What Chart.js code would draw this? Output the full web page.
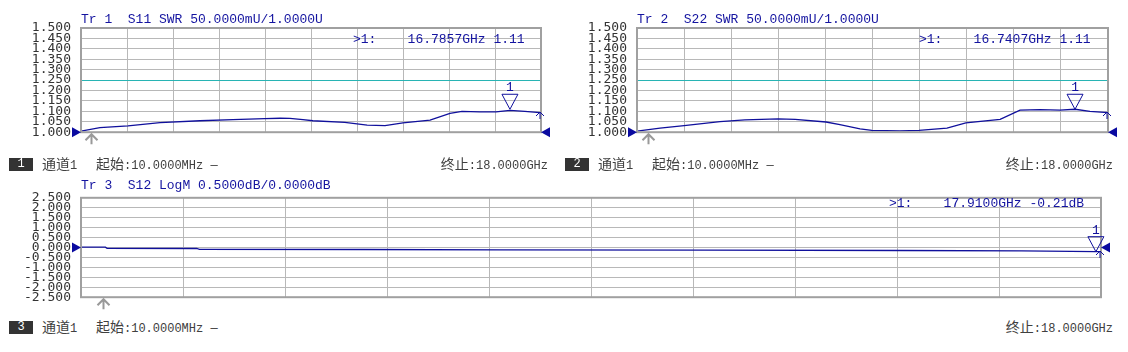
<!DOCTYPE html>
<html>
<head>
<meta charset="utf-8">
<script src="https://cdn.jsdelivr.net/npm/chart.js@4.4.0/dist/chart.umd.min.js"></script>
<style>
  body { margin: 0; background: #fff; width: 1128px; height: 352px; position: relative; overflow: hidden; }
  canvas { position: absolute; }
  .title { position: absolute; font: 13px "Liberation Mono", monospace; color: #1414a0; white-space: pre; line-height: 13px; }
  .stat { position: absolute; font: 12px "Liberation Mono", "Noto Sans CJK SC", monospace; color: #404040; white-space: pre; line-height: 15px; }
  .cj { font: 14px "Noto Sans CJK SC", sans-serif; line-height: 15px; }
  .box { position: absolute; width: 24px; height: 13px; background: #333; color: #fff; font: 12px "Liberation Mono", monospace; line-height: 13px; text-align: center; }
</style>
</head>
<body>

<canvas id="c1" width="560" height="150" style="left:0;top:0"></canvas>
<canvas id="c2" width="568" height="150" style="left:560px;top:0"></canvas>
<canvas id="c3" width="1128" height="135" style="left:0;top:180px"></canvas>

<div class="title" style="left:81px;top:13px">Tr 1  S11 SWR 50.0000mU/1.0000U</div>
<div class="title" style="left:353px;top:33px">&gt;1:    16.7857GHz 1.11</div>
<div class="title" style="left:637px;top:13px">Tr 2  S22 SWR 50.0000mU/1.0000U</div>
<div class="title" style="left:919px;top:33px">&gt;1:    16.7407GHz 1.11</div>
<div class="title" style="left:81px;top:179px">Tr 3  S12 LogM 0.5000dB/0.0000dB</div>
<div class="title" style="left:889px;top:197px">&gt;1:    17.9100GHz -0.21dB</div>

<div class="box" style="left:9px;top:158px">1</div>
<div class="stat" style="left:42px;top:156px"><span class="cj">通道</span>1</div>
<div class="stat" style="left:96px;top:156px"><span class="cj">起始</span>:10.0000MHz —</div>
<div class="stat" style="right:580px;top:156px"><span class="cj">终止</span>:18.0000GHz</div>

<div class="box" style="left:565px;top:158px">2</div>
<div class="stat" style="left:598px;top:156px"><span class="cj">通道</span>1</div>
<div class="stat" style="left:652px;top:156px"><span class="cj">起始</span>:10.0000MHz —</div>
<div class="stat" style="right:15px;top:156px"><span class="cj">终止</span>:18.0000GHz</div>

<div class="box" style="left:9px;top:321px">3</div>
<div class="stat" style="left:42px;top:319px"><span class="cj">通道</span>1</div>
<div class="stat" style="left:96px;top:319px"><span class="cj">起始</span>:10.0000MHz —</div>
<div class="stat" style="right:15px;top:319px"><span class="cj">终止</span>:18.0000GHz</div>

<script>
// sweep (GHz)
const freqStart = 0.01;
const freqStop = 18;
const xGrid = [0.01, 1.809, 3.608, 5.407, 7.206, 9.005, 10.804, 12.603, 14.402, 16.201, 18];

// y scales
const swrTicks = [1.0, 1.05, 1.1, 1.15, 1.2, 1.25, 1.3, 1.35, 1.4, 1.45, 1.5];
const logTicks = [2.5, 2.0, 1.5, 1.0, 0.5, 0.0, -0.5, -1.0, -1.5, -2.0, -2.5];

// Tr 1 S11 SWR
const freqS11 = [0.01, 0.75, 1.85, 3.1, 4.66, 5.95, 7.2, 7.8, 8.18, 8.69, 9.08, 10.33, 11.2, 11.9, 12.6, 13.66, 14.44, 14.91, 15.6, 16.24, 16.79, 17.37, 17.96, 18];
const swrS11 = [1.005, 1.022, 1.030, 1.046, 1.055, 1.060, 1.065, 1.067, 1.066, 1.060, 1.055, 1.047, 1.034, 1.032, 1.045, 1.058, 1.090, 1.100, 1.098, 1.098, 1.105, 1.100, 1.094, 1.093];

// Tr 2 S22 SWR
const freqS22 = [0.01, 0.89, 1.81, 3.18, 4.13, 5.4, 6.05, 7.23, 7.76, 8.53, 8.98, 10.05, 10.78, 11.85, 12.57, 13.88, 14.64, 15.4, 16.17, 16.74, 17.31, 18];
const swrS22 = [1.005, 1.020, 1.032, 1.051, 1.059, 1.064, 1.062, 1.049, 1.036, 1.016, 1.009, 1.006, 1.009, 1.020, 1.045, 1.062, 1.106, 1.108, 1.106, 1.110, 1.100, 1.094];

// Tr 3 S12 LogM
const freqS12 = [0.01, 0.44, 0.47, 2.05, 2.1, 5.0, 7.4, 11.0, 14.5, 16.6, 17.91, 18];
const dbS12 = [0.02, 0.02, -0.04, -0.05, -0.09, -0.10, -0.12, -0.13, -0.15, -0.17, -0.21, -0.21];

// markers / reference levels
const mkr1 = { f: 16.7857, v: 1.11 };
const mkr2 = { f: 16.7407, v: 1.11 };
const mkr3 = { f: 17.91, v: -0.21 };
const stim = [0.40, 0.42, 0.39];

const gridColor = '#b8b8b8';
const traceColor = '#10109c';

// frame, reference line, arrows and marker triangle
const vnaPlugin = {
  id: 'vna',
  beforeDatasetsDraw(chart, args, o) {
    if (o.refLine == null) return;
    const { ctx, chartArea: a, scales: { y } } = chart;
    const py = Math.round(y.getPixelForValue(o.refLine)) + 0.5;
    ctx.save();
    ctx.strokeStyle = '#28b4b4';
    ctx.lineWidth = 1.2;
    ctx.beginPath(); ctx.moveTo(a.left, py); ctx.lineTo(a.right, py); ctx.stroke();
    ctx.restore();
  },
  afterDraw(chart, args, o) {
    const { ctx, chartArea: a, scales: { x, y } } = chart;
    ctx.save();
    ctx.strokeStyle = '#a0a0a0';
    ctx.lineWidth = 2;
    ctx.strokeRect(a.left, a.top, a.right - a.left, a.bottom - a.top);

    // reference arrows
    const ry = y.getPixelForValue(o.ref);
    ctx.fillStyle = '#0a0aa0';
    ctx.beginPath(); ctx.moveTo(a.left - 9, ry - 5); ctx.lineTo(a.left, ry); ctx.lineTo(a.left - 9, ry + 5); ctx.fill();
    ctx.beginPath(); ctx.moveTo(a.right + 9, ry - 5); ctx.lineTo(a.right, ry); ctx.lineTo(a.right + 9, ry + 5); ctx.fill();

    // marker triangle
    const mx = x.getPixelForValue(o.mkr.f), my = y.getPixelForValue(o.mkr.v);
    ctx.strokeStyle = traceColor;
    ctx.lineWidth = 1;
    ctx.beginPath(); ctx.moveTo(mx, my); ctx.lineTo(mx - 8, my - 15); ctx.lineTo(mx + 8, my - 15); ctx.closePath(); ctx.stroke();
    ctx.fillStyle = traceColor;
    ctx.font = '13px "Liberation Mono", monospace';
    ctx.textAlign = 'center';
    ctx.fillText('1', mx, my - 18);

    // small end-of-trace caret
    const ds = chart.data.datasets[0].data;
    const ey = Math.round(y.getPixelForValue(ds[ds.length - 1].y));
    ctx.beginPath();
    ctx.moveTo(a.right - 5, ey + 3); ctx.lineTo(a.right - 1, ey - 1); ctx.lineTo(a.right + 3, ey + 3);
    ctx.moveTo(a.right - 1, ey - 1); ctx.lineTo(a.right - 1, ey + 6);
    ctx.stroke();

    // stimulus arrow under the grid
    const sx = Math.round(x.getPixelForValue(o.stim)) + 0.5;
    ctx.strokeStyle = '#999';
    ctx.lineWidth = 2;
    ctx.beginPath();
    ctx.moveTo(sx - 6, a.bottom + 8); ctx.lineTo(sx, a.bottom + 2); ctx.lineTo(sx + 6, a.bottom + 8);
    ctx.moveTo(sx, a.bottom + 2); ctx.lineTo(sx, a.bottom + 12);
    ctx.stroke();
    ctx.restore();
  }
};

function makePanel(id, freqs, vals, yTicks, yMin, yMax, axisW, pad, extra) {
  return new Chart(document.getElementById(id), {
    type: 'line',
    data: {
      datasets: [{
        data: freqs.map((f, i) => ({ x: f, y: vals[i] })),
        borderColor: traceColor,
        borderWidth: 1.3,
        pointRadius: 0,
        tension: 0
      }]
    },
    options: {
      responsive: false,
      animation: false,
      layout: { padding: pad },
      plugins: { legend: { display: false }, tooltip: { enabled: false }, vna: extra },
      scales: {
        x: {
          type: 'linear', min: freqStart, max: freqStop,
          afterBuildTicks: s => { s.ticks = xGrid.map(v => ({ value: v })); },
          afterFit: s => { s.height = 0; },
          ticks: { display: false },
          grid: { color: gridColor, drawTicks: false },
          border: { display: false }
        },
        y: {
          min: yMin, max: yMax,
          afterBuildTicks: s => { s.ticks = yTicks.map(v => ({ value: v })); },
          afterFit: s => { s.width = axisW; },
          ticks: {
            autoSkip: false, padding: 10, color: '#333',
            font: { family: '"DejaVu Sans Mono", monospace', size: 13 },
            callback: v => v.toFixed(3)
          },
          grid: { color: gridColor, drawTicks: false },
          border: { display: false }
        }
      }
    },
    plugins: [vnaPlugin]
  });
}

makePanel('c1', freqS11, swrS11, swrTicks, 1.0, 1.5, 81,
  { top: 28, right: 19, bottom: 12, left: 0 },
  { ref: 1.0, refLine: 1.25, mkr: mkr1, stim: stim[0] });
makePanel('c2', freqS22, swrS22, swrTicks, 1.0, 1.5, 77,
  { top: 28, right: 20, bottom: 12, left: 0 },
  { ref: 1.0, refLine: 1.25, mkr: mkr2, stim: stim[1] });
makePanel('c3', freqS12, dbS12, logTicks, -2.5, 2.5, 81,
  { top: 13, right: 27, bottom: 12, left: 0 },
  { ref: 0, refLine: null, mkr: mkr3, stim: stim[2] });
</script>
</body>
</html>
